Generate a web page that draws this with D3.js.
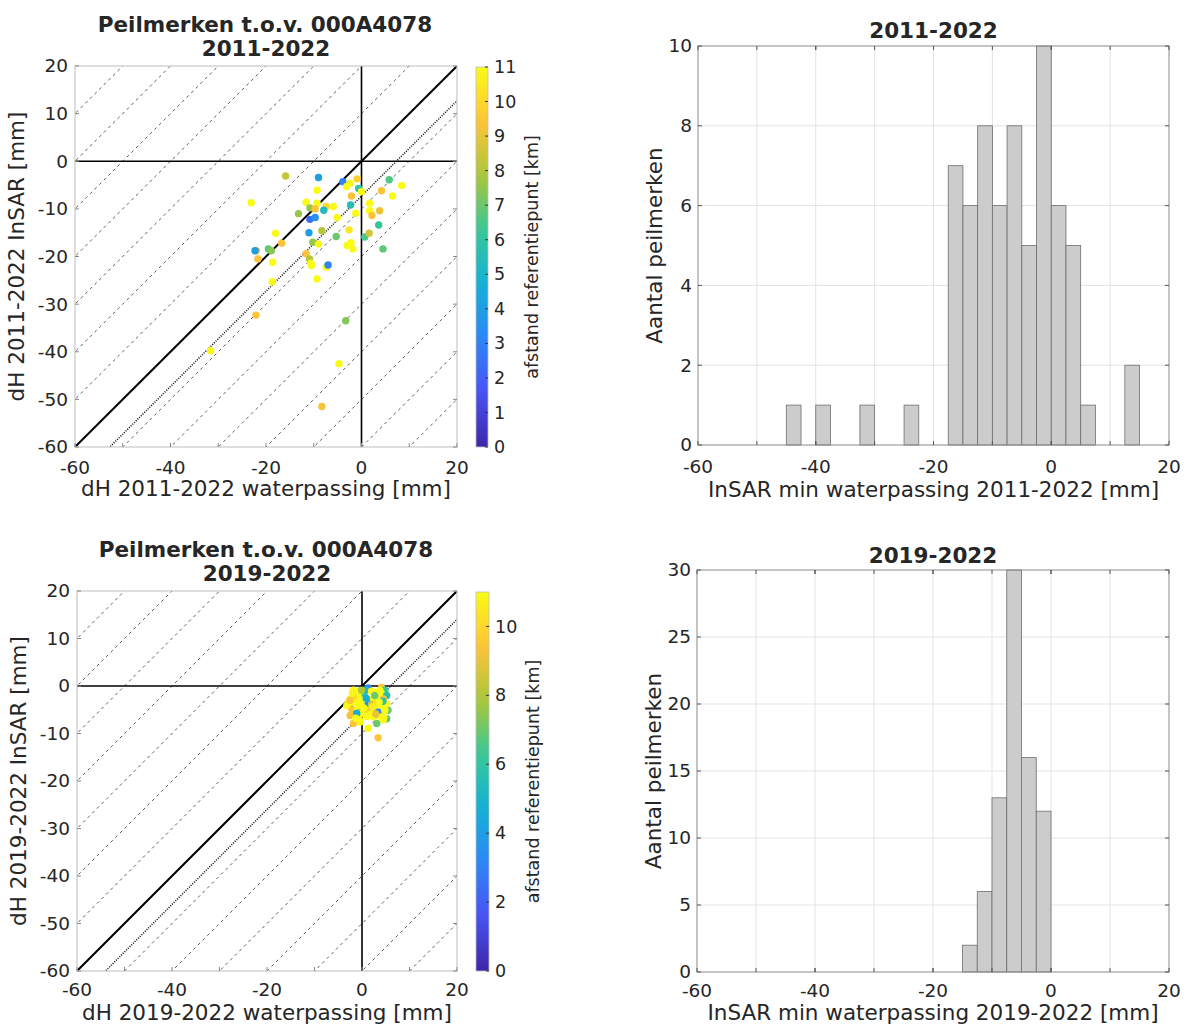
<!DOCTYPE html>
<html>
<head>
<meta charset="utf-8">
<script src="https://cdn.jsdelivr.net/npm/d3@7"></script>
<style>
  body { margin: 0; background: #fff; }
  text { font-family: "DejaVu Sans", sans-serif; fill: #262626; }
</style>
</head>
<body>
<svg id="fig" width="1188" height="1025"></svg>
<script>
// ---- data ----
// 2011-2022: waterpassing (x), InSAR (y), afstand referentiepunt (km)
const wp1 = [-15.9,-9.0,-3.9,-0.9,-2.4,-3.1,-0.6,0.0,5.8,8.4,4.2,6.5,-9.3,-2.1,-23.1,-11.6,-9.3,-7.4,-5.9,-10.8,
             -9.7,-2.3,1.7,1.7,3.8,2.2,-1.2,-7.9,-13.2,-10.8,-9.7,-5.1,3.6,-18.0,-11.0,-8.3,-2.6,-5.3,0.7,1.6,
             -10.2,-9.0,-2.2,-3.0,-1.8,4.5,-16.7,-22.0,-22.3,-19.5,-18.9,-21.7,-18.6,-11.6,-10.9,-10.5,-10.6,-7.4,-7.0,-18.7,
             -9.3,-22.1,-3.3,-4.7,-8.3,-31.6]
const ins1 = [-3.1,-3.4,-4.3,-3.7,-4.6,-5.3,-5.7,-6.4,-3.9,-5.1,-6.2,-7.3,-6.1,-7.3,-8.7,-8.6,-8.8,-9.5,-9.5,-9.8,
              -10.0,-9.2,-8.8,-10.4,-10.4,-11.4,-10.9,-10.3,-11.0,-12.2,-11.8,-11.8,-13.4,-15.1,-15.0,-14.6,-14.4,-15.8,-15.9,-15.1,
              -17.0,-17.4,-17.1,-17.7,-18.4,-18.4,-17.2,-18.8,-18.8,-18.4,-18.8,-20.5,-21.2,-19.4,-20.5,-21.9,-21.4,-22.2,-21.8,-25.3,
              -24.7,-32.3,-33.5,-42.5,-51.5,-39.8]
const afst1 = [8.4,4.0,3.0,9.8,10.8,11,6.0,11,6.6,11,9.4,11,11,9.4,11,11,11,9.9,11,7.6,
               9.4,5.6,11,11,9.1,9.4,11,5.3,7.6,2.4,3.5,11,6.2,11,4.0,8.1,10.4,7.0,6.5,8.6,
               7.6,11,11,11,11,6.8,9.4,9.5,4.0,6.8,7.4,9.4,11,9.4,8.1,11,11,11,3.0,11,
               11,9.4,7.3,11,9.3,11]

// 2019-2022
const wp2 = [1.3,4.1,4.8,-1.8,-0.8,0.3,0.8,2.0,3.1,4.1,5.2,-2.5,-1.5,-0.4,0.6,1.3,2.4,3.4,4.5,5.5,
             -2.9,-1.8,-0.8,0.3,1.3,2.0,3.1,4.1,5.2,-2.2,-1.1,-0.4,0.6,1.7,2.7,3.4,4.8,-1.5,-0.1,-2.5,
             -0.8,1.0,2.4,4.1,5.2,-0.4,3.1,4.5,1.3,3.4,-3.2,-2.5,-1.8,2.7,-1.1,-0.4,-0.1,2.2,0.0,1.8,
             3.8,4.4,-2.0,0.4,2.9,-1.3,4.6,0.9,-0.6,3.6]
const ins2 = [-0.4,-0.3,-0.9,-0.9,-1.3,-1.5,-0.9,-1.1,-1.3,-1.6,-2.0,-2.7,-2.3,-2.2,-2.3,-2.7,-2.7,-2.3,-2.7,-5.1,
              -3.7,-3.4,-3.6,-3.4,-3.7,-3.9,-3.6,-4.1,-3.7,-4.8,-5.1,-5.5,-5.0,-5.1,-4.8,-5.5,-5.1,-5.8,-5.8,-6.2,
              -6.5,-6.4,-6.5,-6.5,-6.9,-7.3,-7.9,-7.1,-8.9,-10.9,-4.1,-3.0,-7.9,-2.0,-5.8,-7.6,-0.9,-4.4,-3.0,-6.0,
              -1.0,-3.2,-1.5,-4.6,-5.9,-6.8,-6.6,-2.6,-4.0,-3.4]
const afst2 = [3.0,9.4,6.2,11,11,8.2,5.2,11,11,11,5.5,11,10.0,11,6.0,11,11,11,9.4,7.0,
               11,11,11,11,3.0,8.4,10.2,11,11,9.4,11,8.2,9.8,9.6,11,3.2,11,9.3,11,9.4,
               11,11,11,11,6.8,11,7.0,11,11,9.5,11,9.4,9.4,7.0,4.5,11,8.0,10.6,11,11,
               11,5.8,10.8,11,9.0,11,10.8,4.6,11,11]

// mean offset InSAR - waterpassing (dotted line)
const meanOffset1 = -7.3
const meanOffset2 = -6.0

// histograms: bin edges and counts
const edges1  = [-45,-42.5,-40,-37.5,-35,-32.5,-30,-27.5,-25,-22.5,-20,-17.5,-15,-12.5,-10,-7.5,-5,-2.5,0,2.5,5,7.5,10,12.5,15]
const counts1 = [1,0,1,0,0,1,0,0,1,0,0,7,6,8,6,8,5,10,6,5,1,0,0,2]
const edges2  = [-15,-12.5,-10,-7.5,-5,-2.5,0]
const counts2 = [2,6,13,30,16,12]

const axisTicks = [-60,-50,-40,-30,-20,-10,0,10,20]
const histXTicks = [-60,-40,-20,0,20]
const histGridX = [-50,-40,-30,-20,-10,0,10]

// parula(8)
const parula = ["#3e26a8","#4852f4","#2d87f7","#12b1d6","#37c897","#abc739","#fec338","#f9fb15"]
const cmap = d3.piecewise(d3.interpolateRgb, parula)

const svg = d3.select("#fig")

function scatterPanel(id, box, title, period, xs, ys, ds, meanOff, cbTicks){
    const g = svg.append("g").attr("transform", `translate(${box.left},${box.top})`)
    const x = d3.scaleLinear().domain([-60,20]).range([0, box.w]),
          y = d3.scaleLinear().domain([-60,20]).range([box.h, 0]),
          c = d3.scaleLinear().domain([0,11]).range([0,1]).clamp(true)

    svg.append("clipPath").attr("id", "clip"+id)
       .append("rect").attr("width", box.w).attr("height", box.h)

    const plot = g.append("g").attr("clip-path", `url(#clip${id})`)

    // dashed offset lines every 10 mm
    d3.range(-80, 90, 10).filter(k => k !== 0).forEach(k => {
        plot.append("line")
            .attr("x1", x(-80)).attr("y1", y(-80 + k))
            .attr("x2", x(40)).attr("y2", y(40 + k))
            .attr("stroke", "#333").attr("stroke-width", 0.8)
            .attr("stroke-dasharray", "3,3.5")
    })
    // mean offset (dotted)
    plot.append("line")
        .attr("x1", x(-80)).attr("y1", y(-80 + meanOff))
        .attr("x2", x(40)).attr("y2", y(40 + meanOff))
        .attr("stroke", "#111").attr("stroke-width", 1.6)
        .attr("stroke-dasharray", "1,1.4")
    // y = x
    plot.append("line")
        .attr("x1", x(-60)).attr("y1", y(-60)).attr("x2", x(20)).attr("y2", y(20))
        .attr("stroke", "#000").attr("stroke-width", 2)
    plot.append("line")
        .attr("x1", 0).attr("y1", y(0)).attr("x2", box.w).attr("y2", y(0))
        .attr("stroke", "#000").attr("stroke-width", 1.6)
    plot.append("line")
        .attr("x1", x(0)).attr("y1", 0).attr("x2", x(0)).attr("y2", box.h)
        .attr("stroke", "#000").attr("stroke-width", 1.6)

    plot.selectAll("circle").data(xs.map((v, i) => [v, ys[i], ds[i]]))
        .enter().append("circle")
        .attr("cx", d => x(d[0])).attr("cy", d => y(d[1]))
        .attr("r", 3.7)
        .attr("fill", d => cmap(c(d[2])))

    // box and inward ticks
    g.append("rect").attr("width", box.w).attr("height", box.h)
     .attr("fill", "none").attr("stroke", "#bdbdbd").attr("stroke-width", 1)
    axisTicks.forEach(t => {
        g.append("line").attr("x1", 0).attr("x2", 4).attr("y1", y(t)).attr("y2", y(t)).attr("stroke", "#888")
        g.append("line").attr("x1", box.w-4).attr("x2", box.w).attr("y1", y(t)).attr("y2", y(t)).attr("stroke", "#888")
        g.append("line").attr("y1", box.h).attr("y2", box.h-4).attr("x1", x(t)).attr("x2", x(t)).attr("stroke", "#888")
    })

    g.append("g").selectAll("text").data(axisTicks).enter().append("text")
     .attr("x", -7).attr("y", d => y(d)).attr("dy", "0.35em")
     .attr("text-anchor", "end").style("font-size", "18.5px").text(d => d)
    g.append("g").selectAll("text").data(axisTicks.filter(d => d % 20 === 0)).enter().append("text")
     .attr("x", d => x(d)).attr("y", box.h + box.tk)
     .attr("text-anchor", "middle").style("font-size", "18.5px").text(d => d)

    g.append("text").attr("x", box.w/2).attr("y", box.xlab)
     .attr("text-anchor", "middle").style("font-size", "21.5px")
     .text(`dH ${period} waterpassing [mm]`)
    g.append("text").attr("transform", `translate(${-51},${box.h/2}) rotate(-90)`)
     .attr("text-anchor", "middle").style("font-size", "21.5px")
     .text(`dH ${period} InSAR [mm]`)

    g.append("text").attr("x", box.w/2 - 1).attr("y", -34)
     .attr("text-anchor", "middle").style("font-size", "21.5px").style("font-weight", "bold")
     .attr("fill", "#000").text(title)
    g.append("text").attr("x", box.w/2).attr("y", -10)
     .attr("text-anchor", "middle").style("font-size", "21.5px").style("font-weight", "bold")
     .text(period)

    // colorbar
    const cb = box.cb
    const grad = svg.append("defs").append("linearGradient").attr("id", "grad"+id)
        .attr("x1", 0).attr("y1", 1).attr("x2", 0).attr("y2", 0)
    d3.range(0, 1.001, 0.05).forEach(t => {
        grad.append("stop").attr("offset", t).attr("stop-color", cmap(t))
    })
    const cg = svg.append("g").attr("transform", `translate(${cb.x},${cb.y})`)
    const cy = d3.scaleLinear().domain([0,11]).range([cb.h, 0])
    cg.append("rect").attr("width", cb.w).attr("height", cb.h).attr("fill", `url(#grad${id})`)
    cg.append("rect").attr("width", cb.w).attr("height", cb.h).attr("fill", "none")
      .attr("stroke", "#bdbdbd").attr("stroke-width", 0.8)
    cbTicks.forEach(t => {
        cg.append("line").attr("x1", cb.w-3).attr("x2", cb.w).attr("y1", cy(t)).attr("y2", cy(t))
          .attr("stroke", "#333").attr("stroke-width", 1)
        cg.append("text").attr("x", cb.w + 6).attr("y", cy(t)).attr("dy", "0.35em")
          .style("font-size", "17.5px").text(t)
    })
    cg.append("text").attr("transform", `translate(${cb.w + 50},${cb.h/2}) rotate(-90)`)
      .attr("text-anchor", "middle").style("font-size", "17.5px")
      .text("afstand referentiepunt [km]")
}

function histPanel(box, period, edges, counts, yMax, yTicks){
    const g = svg.append("g").attr("transform", `translate(${box.left},${box.top})`)
    const x = d3.scaleLinear().domain([-60,20]).range([0, box.w]),
          y = d3.scaleLinear().domain([0, yMax]).range([box.h, 0])

    histGridX.forEach(t => {
        g.append("line").attr("x1", x(t)).attr("x2", x(t)).attr("y1", 0).attr("y2", box.h)
         .attr("stroke", "#e3e3e3").attr("stroke-width", 1)
    })
    yTicks.filter(t => t > 0 && t < yMax).forEach(t => {
        g.append("line").attr("y1", y(t)).attr("y2", y(t)).attr("x1", 0).attr("x2", box.w)
         .attr("stroke", "#e3e3e3").attr("stroke-width", 1)
    })

    const bins = counts.map((n, i) => ({x0: edges[i], x1: edges[i+1], n: n})).filter(b => b.n > 0)
    g.selectAll("rect.bar").data(bins).enter().append("rect")
     .attr("class", "bar")
     .attr("x", d => x(d.x0)).attr("width", d => x(d.x1) - x(d.x0))
     .attr("y", d => y(d.n)).attr("height", d => y(0) - y(d.n))
     .attr("fill", "#cccccc").attr("stroke", "#6e6e6e").attr("stroke-width", 0.8)

    g.append("rect").attr("width", box.w).attr("height", box.h)
     .attr("fill", "none").attr("stroke", "#8a8a8a").attr("stroke-width", 1)
    histGridX.concat(histXTicks).forEach(t => {
        g.append("line").attr("x1", x(t)).attr("x2", x(t)).attr("y1", box.h).attr("y2", box.h-4).attr("stroke", "#555")
        g.append("line").attr("x1", x(t)).attr("x2", x(t)).attr("y1", 0).attr("y2", 4).attr("stroke", "#555")
    })
    yTicks.forEach(t => {
        g.append("line").attr("x1", 0).attr("x2", 4).attr("y1", y(t)).attr("y2", y(t)).attr("stroke", "#555")
        g.append("line").attr("x1", box.w-4).attr("x2", box.w).attr("y1", y(t)).attr("y2", y(t)).attr("stroke", "#555")
    })

    g.append("g").selectAll("text").data(yTicks).enter().append("text")
     .attr("x", -6).attr("y", d => y(d)).attr("dy", "0.35em")
     .attr("text-anchor", "end").style("font-size", "18.5px").text(d => d)
    g.append("g").selectAll("text").data(histXTicks).enter().append("text")
     .attr("x", d => x(d)).attr("y", box.h + box.tk)
     .attr("text-anchor", "middle").style("font-size", "18.5px").text(d => d)

    g.append("text").attr("x", box.w/2).attr("y", box.xlab)
     .attr("text-anchor", "middle").style("font-size", "21.5px")
     .text(`InSAR min waterpassing ${period} [mm]`)
    g.append("text").attr("transform", `translate(${-36},${box.h/2}) rotate(-90)`)
     .attr("text-anchor", "middle").style("font-size", "21.5px")
     .text("Aantal peilmerken")
    g.append("text").attr("x", box.w/2).attr("y", box.tlab)
     .attr("text-anchor", "middle").style("font-size", "21.5px").style("font-weight", "bold")
     .text(period)
}

scatterPanel("a", {left: 75, top: 66, w: 382, h: 381, tk: 27, xlab: 430, cb: {x: 476, y: 67, w: 12, h: 380}},
             "Peilmerken t.o.v. 000A4078", "2011-2022", wp1, ins1, afst1, meanOffset1, d3.range(0, 12, 1))
scatterPanel("b", {left: 77, top: 591, w: 380, h: 380, tk: 25, xlab: 429, cb: {x: 476, y: 592, w: 13, h: 379}},
             "Peilmerken t.o.v. 000A4078", "2019-2022", wp2, ins2, afst2, meanOffset2, [0,2,4,6,8,10])

histPanel({left: 698, top: 46, w: 471, h: 399, tk: 28, xlab: 451, tlab: -8}, "2011-2022", edges1, counts1, 10, [0,2,4,6,8,10])
histPanel({left: 697, top: 570, w: 472, h: 402, tk: 25, xlab: 450, tlab: -7}, "2019-2022", edges2, counts2, 30, [0,5,10,15,20,25,30])
</script>
</body>
</html>
